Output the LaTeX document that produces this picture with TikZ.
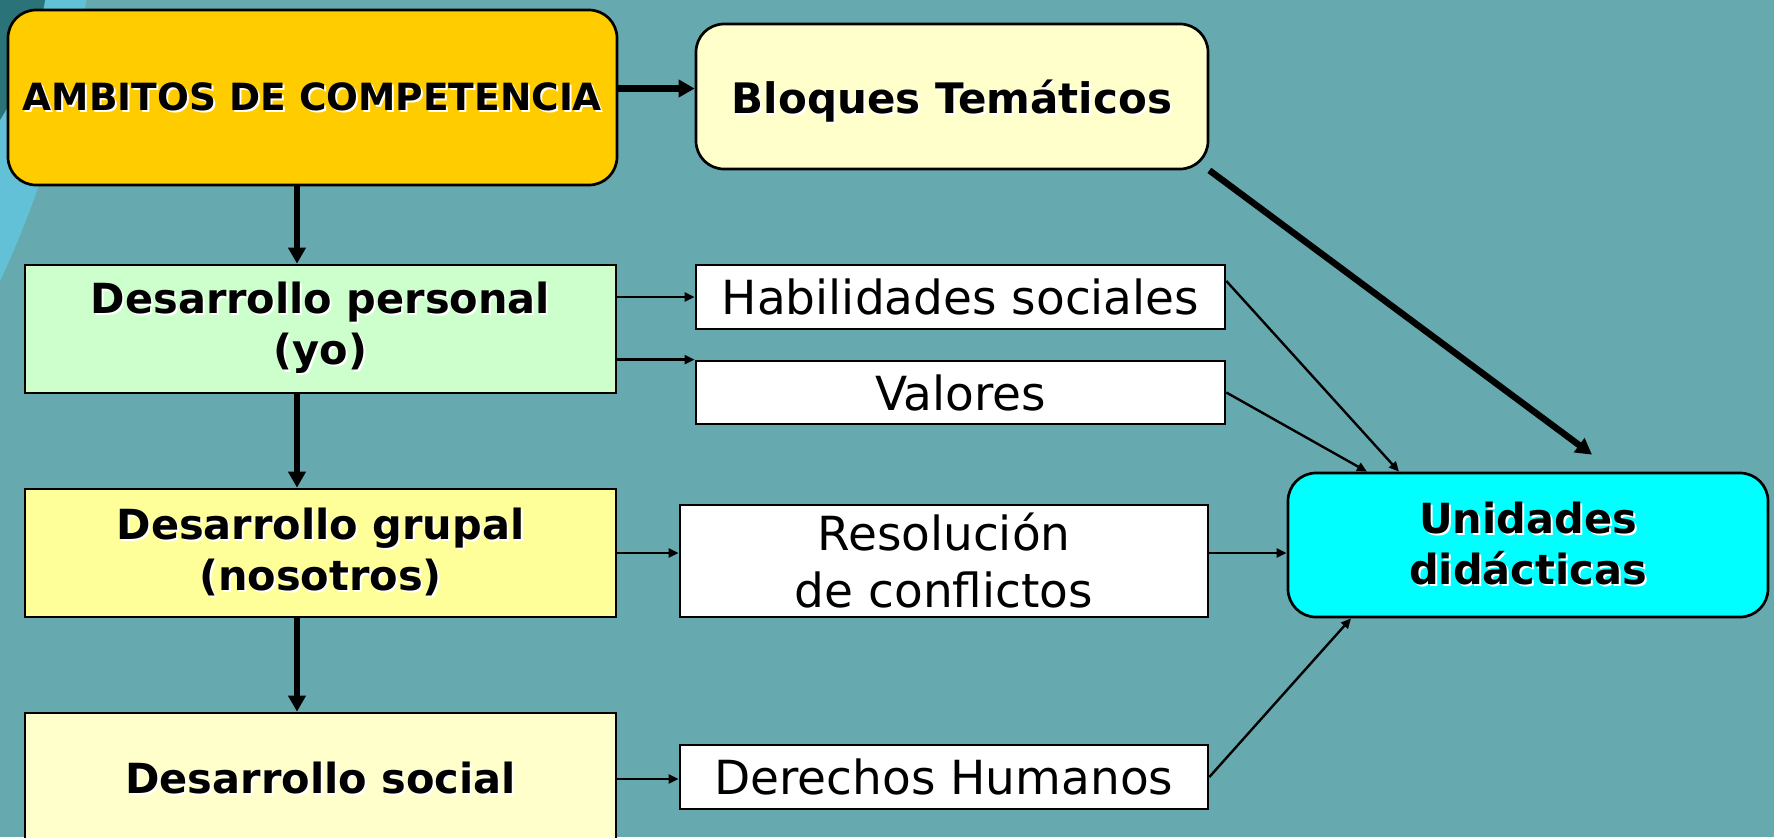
\documentclass[tikz,border=0pt]{standalone}
\usepackage{fontspec}
\setmainfont{DejaVu Sans}
\usetikzlibrary{arrows.meta}
\definecolor{fondo}{HTML}{66AAB0}
\definecolor{arco}{HTML}{62C1D6}
\definecolor{arcoosc}{HTML}{2A7479}
\definecolor{oro}{HTML}{FFCC00}
\definecolor{crema}{HTML}{FFFFCC}
\definecolor{menta}{HTML}{CCFFCC}
\definecolor{limon}{HTML}{FFFF99}
\definecolor{cian}{HTML}{00FFFF}
\newcommand\shtext[1]{\leavevmode\rlap{\kern1pt\raisebox{-1pt}{\color{white}#1}}#1}
\tikzset{
x=0.5pt,y=-0.5pt,
box/.style={draw,line width=1.35pt,inner sep=0pt,align=center,font=\bfseries\fontsize{20.75}{25.5}\selectfont},
rbox/.style={box,rounded corners=14pt},
wbox/.style={draw,fill=white,line width=1.35pt,inner sep=0pt,align=center,font=\fontsize{23.5}{28.5}\selectfont},
thk/.style={line width=3.25pt,-{Triangle[length=8pt,width=8.5pt]}},
thn/.style={line width=1.2pt,-{Triangle[length=5pt,width=4.5pt]}}
}
\begin{document}
\begin{tikzpicture}
\useasboundingbox (0,0) rectangle (1774,837);
\clip (0,0) rectangle (1774,837);
\fill[fondo] (0,0) rectangle (1774,837);
\fill[arco] (-1000,-180) circle[radius=1101];
\fill[arcoosc] (-300,-61) circle[radius=350.4];

\node[rbox,fill=oro,minimum width=304.5pt,minimum height=87.5pt,
  font=\bfseries\fontsize{18.75}{22}\selectfont] (amb) at (312.5,97.5) {\shtext{AMBITOS DE COMPETENCIA}};
\node[rbox,fill=crema,minimum width=256pt,minimum height=72.5pt,text depth=0pt,
  font=\bfseries\fontsize{21}{25.5}\selectfont] (blo) at (952,96.5) {\shtext{Bloques Temáticos}};
\node[box,fill=menta,minimum width=295.5pt,minimum height=64pt] (per) at (320.5,329)
  {\shtext{Desarrollo personal}\\\shtext{(yo)}};
\node[box,fill=limon,minimum width=295.5pt,minimum height=64pt] (gru) at (320.5,553)
  {\shtext{Desarrollo grupal}\\\shtext{(nosotros)}};
\node[box,fill=crema,minimum width=295.5pt,minimum height=66pt] (soc) at (320.5,779)
  {\shtext{Desarrollo social}};
\node[wbox,minimum width=264.5pt,minimum height=32pt] (hab) at (960.5,297) {Habilidades sociales};
\node[wbox,minimum width=264.5pt,minimum height=31.5pt] (val) at (960.5,392.5) {Valores};
\node[wbox,minimum width=264pt,minimum height=56pt] (res) at (944,561) {Resolución\\de conflictos};
\node[wbox,minimum width=264pt,minimum height=32pt] (der) at (944,777) {Derechos Humanos};
\node[rbox,fill=cian,minimum width=240pt,minimum height=72pt] (uni) at (1528,545)
  {\shtext{Unidades}\\\shtext{didácticas}};

\coordinate (eje) at (297,0);
\draw[thk] (amb.south -| eje) -- (per.north -| eje);
\draw[thk] (per.south -| eje) -- (gru.north -| eje);
\draw[thk] (gru.south -| eje) -- (soc.north -| eje);
\draw[thk] ([yshift=4.5pt]amb.east) -- ([yshift=4pt]blo.west);
\draw[thk] (blo.south east) -- ([xshift=32pt,yshift=8.5pt]uni.north);

\draw[thn] (per.east |- hab.west) -- (hab.west);
\draw[thn] (per.east |- val.north west) -- (val.north west);
\draw[thn] (gru.east) -- (gru.east -| res.west);
\draw[thn] (soc.east) -- (soc.east -| der.west);
\draw[thn] (gru.east -| res.east) -- (gru.east -| uni.west);
\draw[thn] ([yshift=8pt]hab.east) -- ([xshift=-64.5pt]uni.north);
\draw[thn] (val.east) -- ([xshift=-80.5pt]uni.north);
\draw[thn] (der.east) -- ([xshift=-88.5pt]uni.south);
\end{tikzpicture}
\end{document}
